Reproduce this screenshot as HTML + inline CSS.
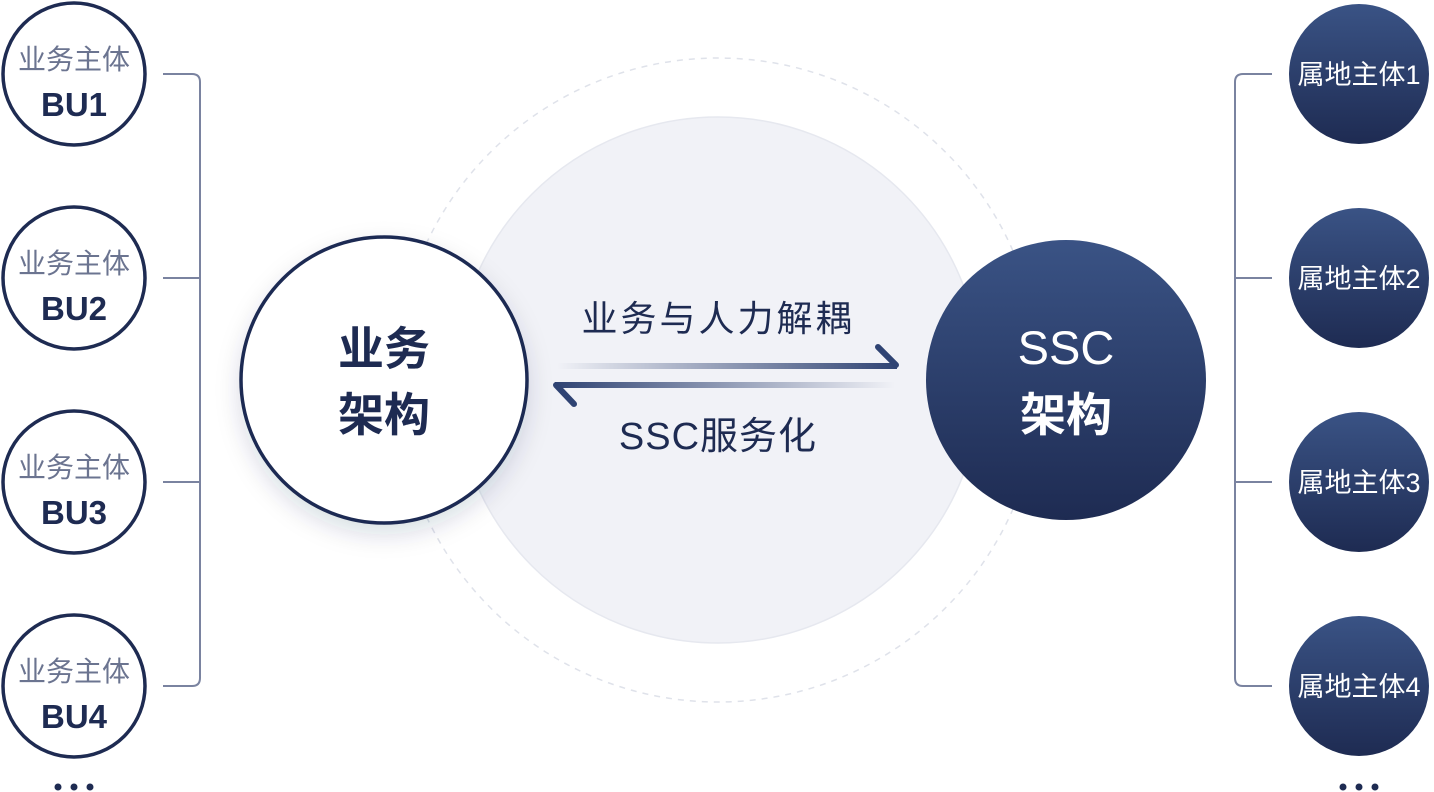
<!DOCTYPE html>
<html><head><meta charset="utf-8"><style>
html,body{margin:0;padding:0;background:#fff;}
svg{display:block;font-family:"Liberation Sans","Noto Sans CJK SC",sans-serif;}
</style></head><body>
<svg width="1434" height="792" viewBox="0 0 1434 792" xmlns="http://www.w3.org/2000/svg">
<defs>
<linearGradient id="nv" x1="0" y1="0" x2="0" y2="1"><stop offset="0" stop-color="#3a5385"/><stop offset="1" stop-color="#1e2b52"/></linearGradient>
<linearGradient id="a1" x1="0" y1="0" x2="1" y2="0"><stop offset="0" stop-color="#2f4373" stop-opacity="0"/><stop offset="1" stop-color="#2f4373"/></linearGradient>
<linearGradient id="a2" x1="1" y1="0" x2="0" y2="0"><stop offset="0" stop-color="#2f4373" stop-opacity="0"/><stop offset="1" stop-color="#2f4373"/></linearGradient>
<filter id="sh" x="-30%" y="-30%" width="160%" height="160%"><feDropShadow dx="0" dy="10" stdDeviation="12" flood-color="#1e2b52" flood-opacity="0.15"/></filter>
</defs>
<circle cx="718" cy="380" r="322" fill="none" stroke="#dfe2ea" stroke-width="1.5" stroke-dasharray="6 6"/>
<circle cx="718" cy="380" r="263" fill="#f1f2f7" stroke="#e6e8ef" stroke-width="1.5"/>
<g fill="none" stroke="#7a83a0" stroke-width="2">
<path d="M163 74 H192 Q200 74 200 82 V678 Q200 686 192 686 H163"/>
<path d="M163 278 H200 M163 482 H200"/>
<path d="M1272 74 H1243 Q1235 74 1235 82 V678 Q1235 686 1243 686 H1272"/>
<path d="M1272 278 H1235 M1272 482 H1235"/>
</g>
<g text-anchor="middle">
<g fill="#fff" stroke="#1e2b52" stroke-width="3.5">
<circle cx="74" cy="74" r="71"/><circle cx="74" cy="278" r="71"/><circle cx="74" cy="482" r="71"/><circle cx="74" cy="686" r="71"/>
</g>
<g fill="#6b7490" font-size="28"><text x="74" y="69">业务主体</text><text x="74" y="273">业务主体</text><text x="74" y="477">业务主体</text><text x="74" y="681">业务主体</text></g>
<g fill="#1e2b52" font-weight="bold" font-size="33"><text x="74" y="116">BU1</text><text x="74" y="320">BU2</text><text x="74" y="524">BU3</text><text x="74" y="728">BU4</text></g>
<g fill="url(#nv)"><circle cx="1359" cy="74" r="70"/><circle cx="1359" cy="278" r="70"/><circle cx="1359" cy="482" r="70"/><circle cx="1359" cy="686" r="70"/></g>
<g fill="#fff" font-size="27"><text x="1359" y="84">属地主体1</text><text x="1359" y="288">属地主体2</text><text x="1359" y="492">属地主体3</text><text x="1359" y="696">属地主体4</text></g>
</g>
<g fill="#1e2b52"><circle cx="58" cy="787" r="3.5"/><circle cx="74" cy="787" r="3.5"/><circle cx="90" cy="787" r="3.5"/>
<circle cx="1343" cy="787" r="3.5"/><circle cx="1359" cy="787" r="3.5"/><circle cx="1375" cy="787" r="3.5"/></g>
<circle cx="384" cy="380" r="143" fill="#fff" stroke="#1e2b52" stroke-width="3.5" filter="url(#sh)"/>
<text x="384" y="365" text-anchor="middle" font-size="46" fill="#1e2b52" font-weight="bold">业务</text>
<text x="384" y="431" text-anchor="middle" font-size="46" fill="#1e2b52" font-weight="bold">架构</text>
<circle cx="1066" cy="380" r="140" fill="url(#nv)"/>
<text x="1066" y="364" text-anchor="middle" font-size="47" fill="#fff">SSC</text>
<text x="1066" y="431" text-anchor="middle" font-size="46" fill="#fff" font-weight="bold">架构</text>
<text x="718" y="331" text-anchor="middle" font-size="36" letter-spacing="3" fill="#1e2b52">业务与人力解耦</text>
<text x="718" y="449" text-anchor="middle" font-size="38" letter-spacing="1" fill="#1e2b52">SSC服务化</text>
<rect x="557" y="363" width="340" height="6" fill="url(#a1)"/>
<path d="M878 347 L896 365" stroke="#2f4373" stroke-width="6" stroke-linecap="round" fill="none"/>
<rect x="555" y="382" width="340" height="6" fill="url(#a2)"/>
<path d="M556 385 L574 404" stroke="#2f4373" stroke-width="6" stroke-linecap="round" fill="none"/>
</svg>
</body></html>
